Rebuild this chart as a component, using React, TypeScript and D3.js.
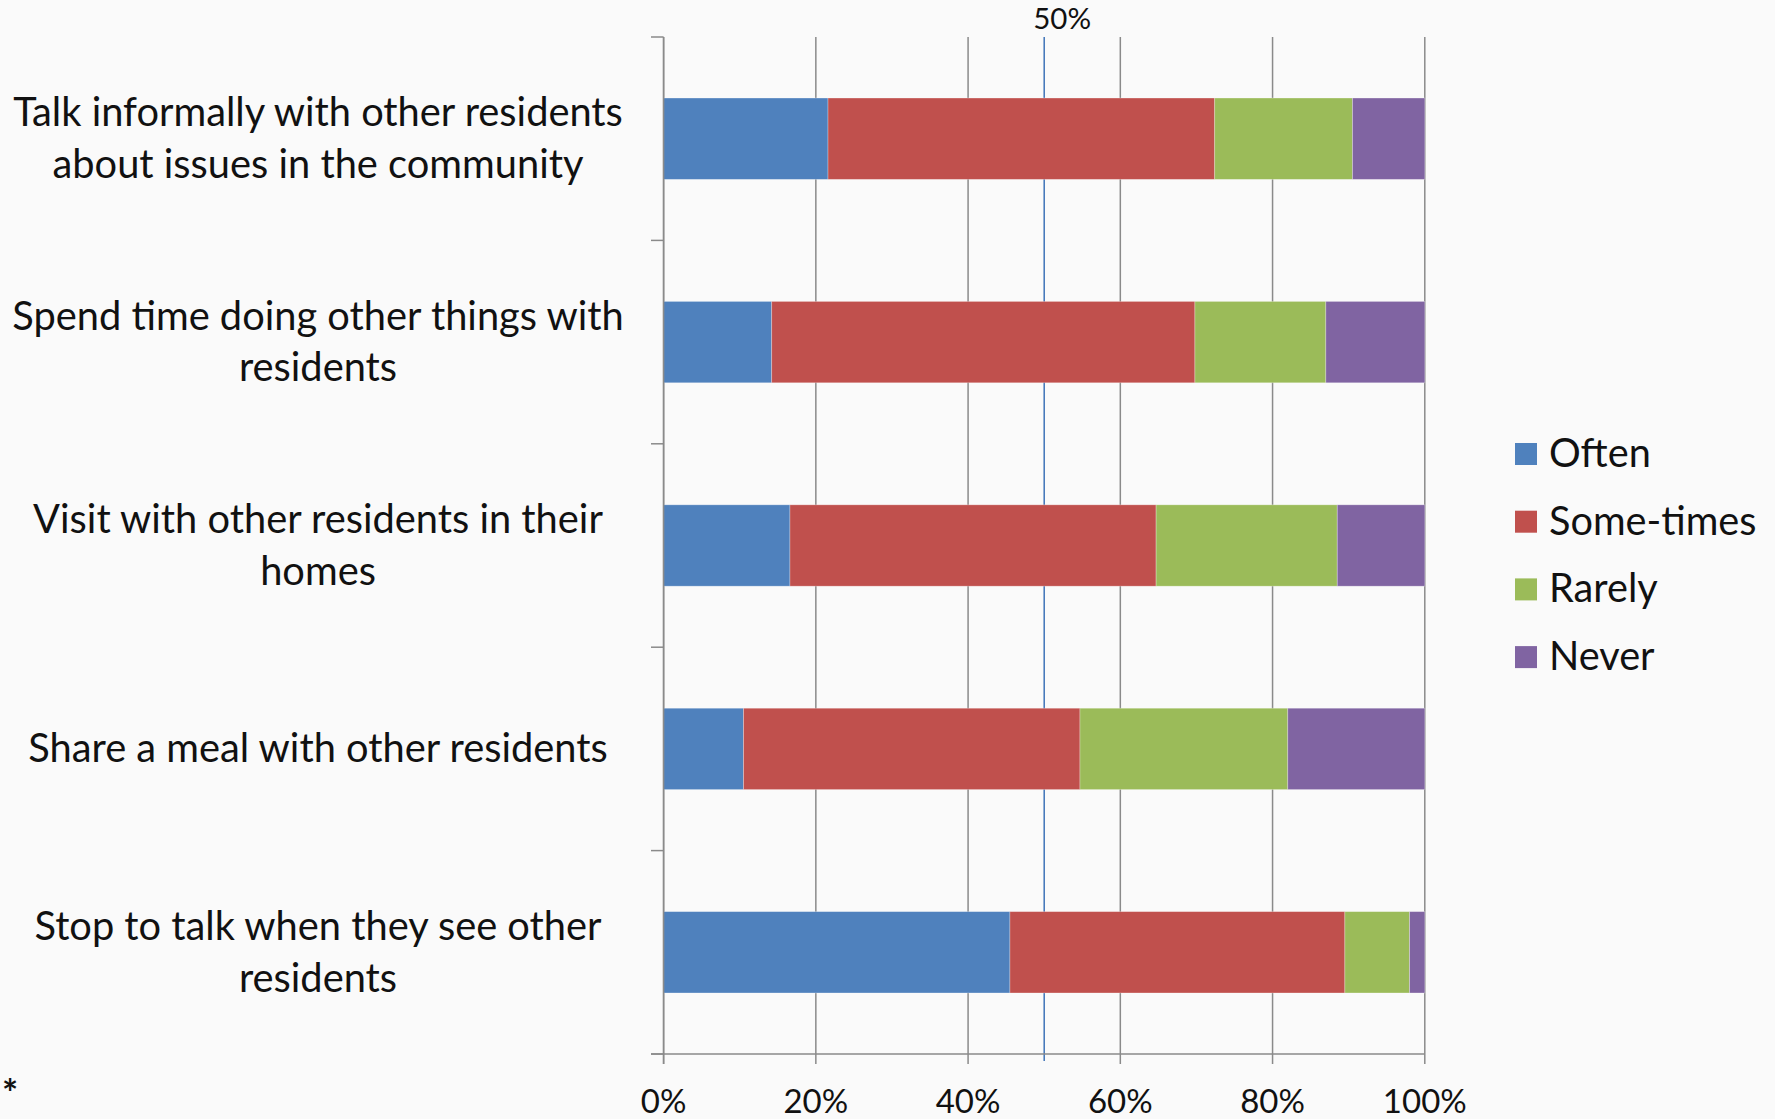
import React from "react";
import * as d3 from "d3";

const categories: string[][] = [
  ["Talk informally with other residents", "about issues in the community"],
  ["Spend time doing other things with", "residents"],
  ["Visit with other residents in their", "homes"],
  ["Share a meal with other residents"],
  ["Stop to talk when they see other", "residents"],
];
const seriesNames = ["Often", "Some-times", "Rarely", "Never"];
const seriesColors = ["#4F81BD", "#C0504D", "#9BBB59", "#8064A2"];
const often = [21.6, 14.2, 16.6, 10.5, 45.5];
const sometimes = [50.8, 55.6, 48.1, 44.2, 44.0];
const rarely = [18.1, 17.2, 23.8, 27.3, 8.5];
const never = [9.5, 13.0, 11.5, 18.0, 2.0];
const xTicks = [0, 20, 40, 60, 80, 100];
const refValue = 50;

const W = 1775;
const H = 1119;
const FONT = "Lato, 'Open Sans', sans-serif";

export default function App() {
  const x = d3.scaleLinear().domain([0, 100]).range([663.6, 1424.8]);
  const y = d3
    .scaleBand<number>()
    .domain(d3.range(categories.length))
    .range([37, 1054])
    .paddingInner(0.6)
    .paddingOuter(0.3);
  const step = y.step();

  const rows = categories.map((_, i) => ({
    often: often[i],
    sometimes: sometimes[i],
    rarely: rarely[i],
    never: never[i],
  }));
  const keys = ["often", "sometimes", "rarely", "never"];
  const stacked = d3.stack<any>().keys(keys)(rows);

  const labelX = 318;
  const gridColor = "#8a8a8a";

  return (
    <svg
      width={W}
      height={H}
      style={{ position: "absolute", left: 0, top: 0, background: "#fafafa" }}
      fontFamily={FONT}
    >
      <rect x={0} y={0} width={W} height={H} fill="#fafafa" />
      {/* gridlines */}
      {xTicks.map((t) => (
        <line
          key={"g" + t}
          x1={x(t)}
          x2={x(t)}
          y1={37}
          y2={1064}
          stroke={gridColor}
          strokeWidth={1.5}
        />
      ))}
      {/* 50% reference line */}
      <line
        x1={x(refValue)}
        x2={x(refValue)}
        y1={37}
        y2={1061}
        stroke="#3f73b8"
        strokeWidth={1.5}
      />
      <text
        x={x(refValue) + 18}
        y={29}
        fontSize={29.5}
        textAnchor="middle"
        fill="#111"
      >
        {refValue}%
      </text>
      {/* bars */}
      {stacked.map((s, si) => (
        <g key={s.key} fill={seriesColors[si]}>
          {s.map((d, i) => (
            <rect
              key={i}
              x={x(d[0])}
              y={y(i)!}
              width={x(d[1]) - x(d[0])}
              height={y.bandwidth()}
              stroke="rgba(255,255,255,0.35)"
              strokeWidth={0.8}
            />
          ))}
        </g>
      ))}
      {/* y axis */}
      <line x1={x(0)} x2={x(0)} y1={37} y2={1064} stroke={gridColor} strokeWidth={1.5} />
      {d3.range(categories.length + 1).map((k) => (
        <line
          key={"yt" + k}
          x1={651}
          x2={x(0)}
          y1={37 + k * step}
          y2={37 + k * step}
          stroke={gridColor}
          strokeWidth={1.5}
        />
      ))}
      {/* x axis */}
      <line x1={651} x2={x(100)} y1={1054} y2={1054} stroke={gridColor} strokeWidth={1.5} />
      {xTicks.map((t) => (
        <text
          key={"xl" + t}
          x={x(t)}
          y={1113}
          fontSize={33}
          textAnchor="middle"
          fill="#111"
        >
          {t}%
        </text>
      ))}
      {/* category labels */}
      {categories.map((lines, i) => {
        const c = y(i)! + y.bandwidth() / 2;
        const lh = 51.5;
        const first = c + 13.5 - ((lines.length - 1) * lh) / 2;
        return (
          <text key={"c" + i} fontSize={39.8} textAnchor="middle" fill="#111">
            {lines.map((ln, j) => (
              <tspan key={j} x={labelX} y={first + j * lh}>
                {ln}
              </tspan>
            ))}
          </text>
        );
      })}
      {/* legend */}
      {seriesNames.map((n, i) => {
        const cy = 454 + i * 67.7;
        return (
          <g key={"lg" + i}>
            <rect x={1515} y={cy - 11} width={22} height={22} fill={seriesColors[i]} />
            <text x={1549} y={cy + 13} fontSize={39.7} fill="#111">
              {n}
            </text>
          </g>
        );
      })}
      <text x={2} y={1107} fontSize={38} fontWeight="bold" fill="#111">
        *
      </text>
    </svg>
  );
}
